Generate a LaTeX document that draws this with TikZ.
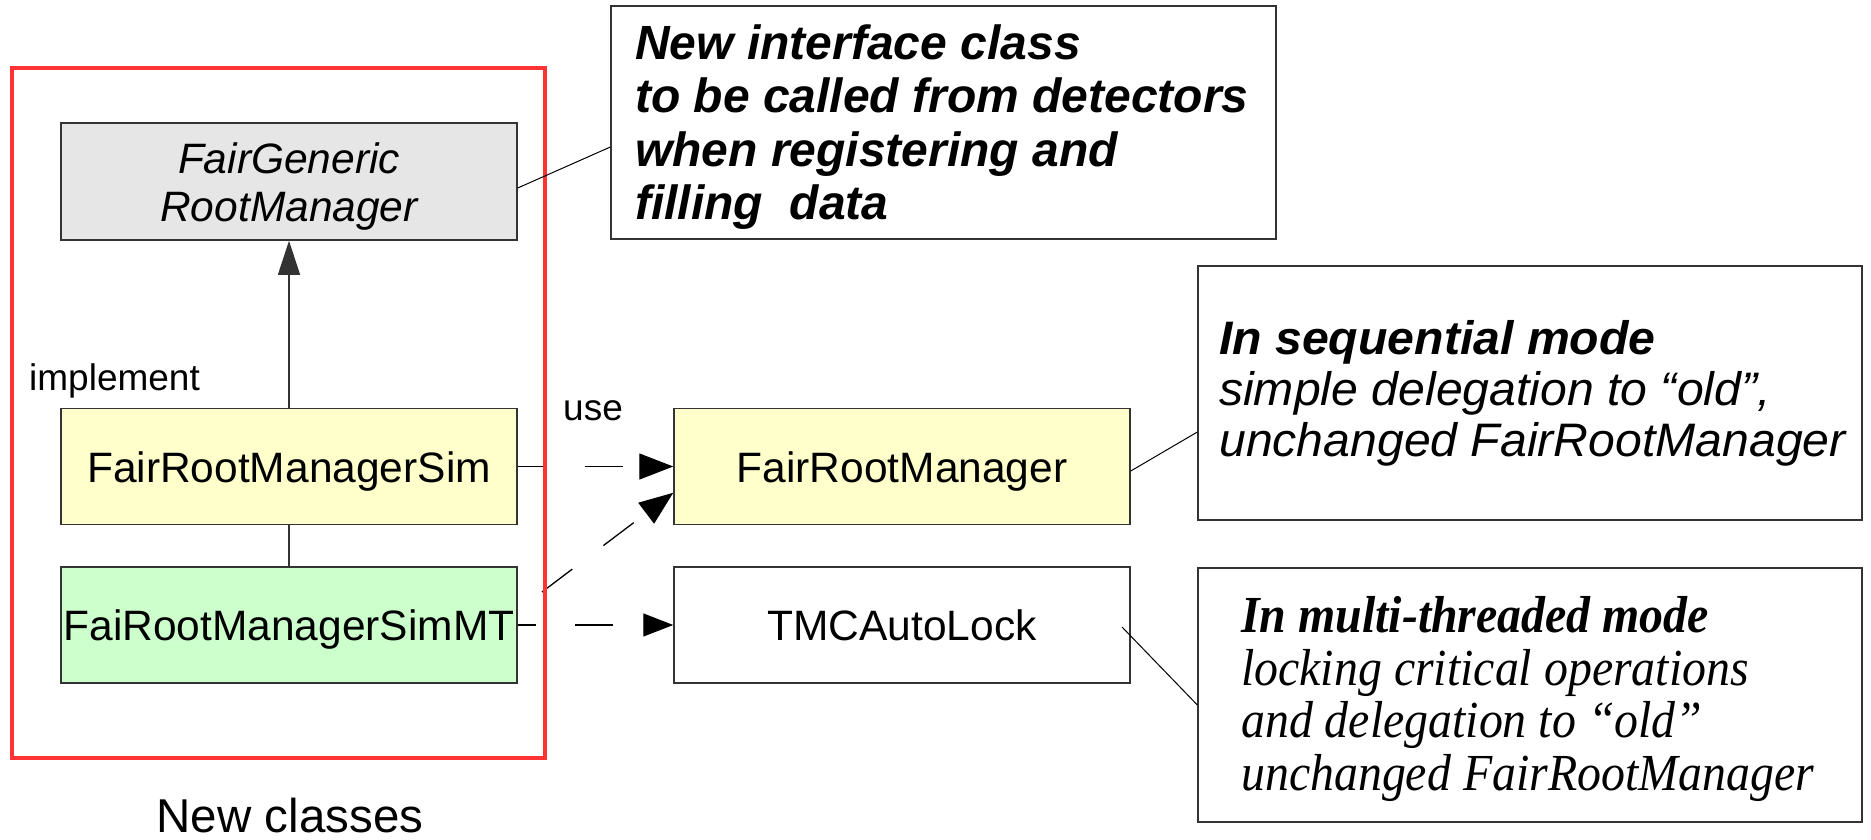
\documentclass[tikz,border=0pt]{standalone}
\usepackage{fontspec}
\setmainfont{Liberation Sans}
\newfontfamily\notesans{Liberation Sans}[FakeStretch=1.025]
\newfontfamily\noteserif{Liberation Serif}[FakeStretch=0.92]
\usetikzlibrary{arrows.meta}
\definecolor{framered}{HTML}{FF3333}
\definecolor{ifacegray}{HTML}{E6E6E6}
\definecolor{simyellow}{HTML}{FFFFCC}
\definecolor{mtgreen}{HTML}{CCFFCC}
\definecolor{edgegray}{HTML}{333333}

\begin{document}
\begin{tikzpicture}[x=1pt,y=-1pt,
  classbox/.style={draw=edgegray, line width=1.5pt, minimum width=456pt,
    minimum height=116pt, inner sep=0pt, font=\fontsize{42.5}{48}\selectfont},
  oneline/.style={text height=31pt, text depth=0pt},
  notebox/.style={draw=edgegray, line width=1.3pt, inner sep=0pt},
  notetext/.style={inner sep=0pt, anchor=north west, align=left},
  pointer/.style={line width=1pt},
  relation/.style={draw=edgegray, line width=1.1pt},
  usearrow/.style={line width=1.3pt, dash pattern=on 38pt off 39pt,
    -{Triangle[length=34pt,width=26pt]}},
  usearrowsmall/.style={line width=1.3pt, dash pattern=on 38pt off 39pt,
    -{Triangle[length=30pt,width=23pt]}},
  caption/.style={inner sep=0pt, anchor=base, font=\fontsize{37}{44}\selectfont}
]
\useasboundingbox (0,0) rectangle (1871,840);

% class boxes
\node[classbox, fill=ifacegray, align=center, minimum height=117pt] (gen) at (289,181.5)
  {\itshape\rule{0pt}{40pt}FairGeneric\\ \itshape RootManager};
\node[classbox, oneline, fill=simyellow] (sim) at (289,466.5) {FairRootManagerSim};
\node[classbox, oneline, fill=mtgreen] (mt) at (289,625) {FaiRootManagerSimMT};
\node[classbox, oneline, fill=simyellow] (frm) at (902,466.5) {FairRootManager};
\node[classbox, oneline, fill=white] (tmc) at (902,625) {TMCAutoLock};

% labels
\node[caption, anchor=base west] (impl) at (29,390) {implement};
\node[caption] (uselbl) at (593,420) {use};
\node[inner sep=0pt, anchor=base, font=\fontsize{47.5}{56}\selectfont] (newlbl) at (290,832) {New classes};

% relations
\draw[relation, -{Triangle[length=34pt,width=22pt]}] (sim.north) -- (gen.south);
\draw[relation] (sim.south) -- (mt.north);
\draw[usearrow, dash phase=10pt] (sim.east) -- (frm.west);
\draw[usearrowsmall, dash phase=20pt] (mt.east) -- (tmc.west);
\coordinate (mtcorner) at (542,592);
\draw[usearrow] (mtcorner) -- ([yshift=32.5pt]frm.south west);

% group frame
\node[draw=framered, line width=3.5pt, minimum width=533pt, minimum height=690pt,
  inner sep=0pt] (newgroup) at (278.5,413) {};

% notes
\node[notebox, minimum width=665pt, minimum height=233pt] (ifnote) at (943.5,122.5) {};
\node[notetext, font=\fontsize{48}{53.5}\selectfont\bfseries\itshape] (iftext) at (635,21.5)
  {\strut New interface class\\
   to be called from detectors\\
   when registering and\\
   filling~~data};

\node[notebox, minimum width=664pt, minimum height=254pt] (seqnote) at (1530,393) {};
\node[notetext, font=\notesans\fontsize{47}{51}\selectfont\itshape] (seqtext) at (1219,318.3)
  {\strut\textbf{In sequential mode}\\
   simple delegation to “old”,\\
   unchanged FairRootManager};

\node[notebox, minimum width=664pt, minimum height=254pt] (mtnote) at (1530,695) {};
\node[notetext, font=\noteserif\fontsize{52}{52.5}\selectfont\itshape] (mttext) at (1241,596)
  {\strut\textbf{In multi-threaded mode}\\
   locking critical operations\\
   and delegation to “old”\\
   unchanged FairRootManager};

% note pointers
\draw[pointer] ([yshift=-6.5pt]gen.east) -- ([yshift=-24.5pt]ifnote.west);
\draw[pointer] ([yshift=-4.5pt]frm.east) -- ([yshift=-39pt]seqnote.west);
\coordinate (lockpin) at (1122,627);
\draw[pointer] (lockpin) -- ([yshift=-10pt]mtnote.west);
\end{tikzpicture}
\end{document}
